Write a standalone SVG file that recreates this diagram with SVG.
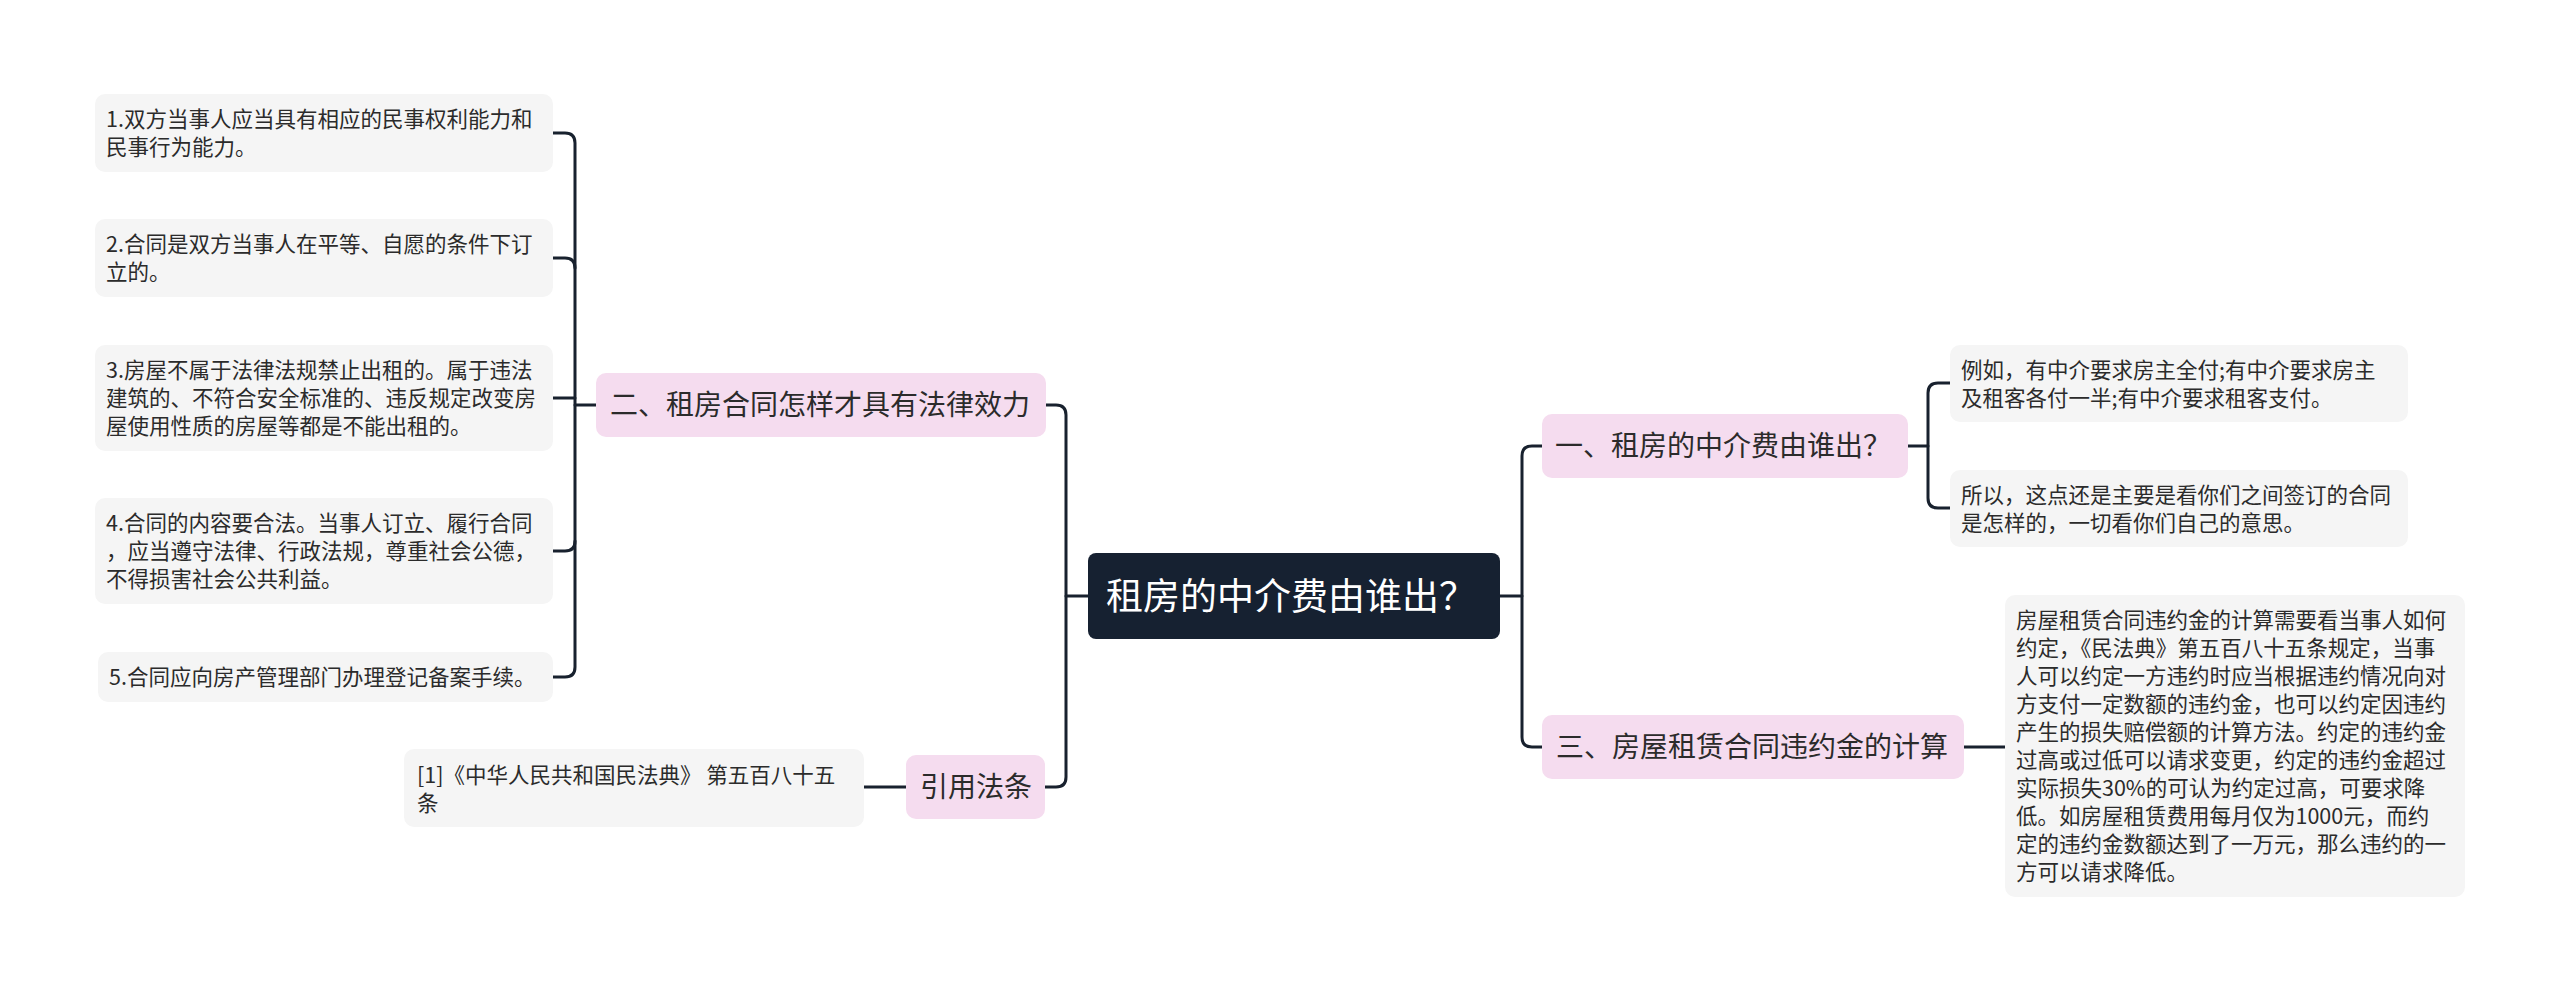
<svg xmlns="http://www.w3.org/2000/svg" width="2560" height="993" viewBox="0 0 2560 993">
<style>
.leaf{fill:#f5f5f5}
.main{fill:#f5dcef}
.root{fill:#162131}
.t{font-family:"Noto Sans CJK SC","Noto Sans",sans-serif;fill:#2b2b2b}
.ts{font-size:21.5px}
.tm{font-size:28px}
.tr{font-size:37px;fill:#ffffff}
.c{fill:none;stroke:#18212e;stroke-width:3;stroke-linecap:round;stroke-linejoin:round}
</style>
<rect width="2560" height="993" fill="#ffffff"/>
<g id="connectors">
<path class="c" d="M553,133 H565 Q575,133 575,143 V667 Q575,677 565,677 H553"/>
<path class="c" d="M553,258 H565 Q575,258 575,268"/>
<path class="c" d="M553,398 H575"/>
<path class="c" d="M553,551 H565 Q575,551 575,541"/>
<path class="c" d="M575,405 H596"/>
<path class="c" d="M1046,405 H1056 Q1066,405 1066,415 V777 Q1066,787 1056,787 H1045"/>
<path class="c" d="M1066,596 H1088"/>
<path class="c" d="M864,787 H906"/>
<path class="c" d="M1500,596 H1522"/>
<path class="c" d="M1542,446 H1532 Q1522,446 1522,456 V737 Q1522,747 1532,747 H1542"/>
<path class="c" d="M1908,446 H1928"/>
<path class="c" d="M1950,383 H1938 Q1928,383 1928,393 V498 Q1928,508 1938,508 H1950"/>
<path class="c" d="M1964,747 H2005"/>
</g>
<g id="root">
<rect class="root" x="1088" y="553" width="412" height="86" rx="8"/>
<text class="t tr" x="1106" y="610">租房的中介费由谁出？</text>
</g>
<g id="b2">
<rect class="main" x="596" y="373" width="450" height="64" rx="10"/>
<text class="t tm" x="610" y="415">二、租房合同怎样才具有法律效力</text>
</g>
<g id="cite">
<rect class="main" x="906" y="755" width="139" height="64" rx="10"/>
<text class="t tm" x="920" y="797">引用法条</text>
</g>
<g id="b1">
<rect class="main" x="1542" y="414" width="366" height="64" rx="10"/>
<text class="t tm" x="1555" y="456">一、租房的中介费由谁出？</text>
</g>
<g id="b3">
<rect class="main" x="1542" y="715" width="422" height="64" rx="10"/>
<text class="t tm" x="1556" y="757">三、房屋租赁合同违约金的计算</text>
</g>
<g id="l1">
<rect class="leaf" x="95" y="94" width="458" height="78" rx="10"/>
<text class="t ts" x="106" y="127">1.双方当事人应当具有相应的民事权利能力和</text>
<text class="t ts" x="106" y="155">民事行为能力。</text>
</g>
<g id="l2">
<rect class="leaf" x="95" y="219" width="458" height="78" rx="10"/>
<text class="t ts" x="106" y="252">2.合同是双方当事人在平等、自愿的条件下订</text>
<text class="t ts" x="106" y="280">立的。</text>
</g>
<g id="l3">
<rect class="leaf" x="95" y="345" width="458" height="106" rx="10"/>
<text class="t ts" x="106" y="378">3.房屋不属于法律法规禁止出租的。属于违法</text>
<text class="t ts" x="106" y="406">建筑的、不符合安全标准的、违反规定改变房</text>
<text class="t ts" x="106" y="434">屋使用性质的房屋等都是不能出租的。</text>
</g>
<g id="l4">
<rect class="leaf" x="95" y="498" width="458" height="106" rx="10"/>
<text class="t ts" x="106" y="531">4.合同的内容要合法。当事人订立、履行合同</text>
<text class="t ts" x="106" y="559">，应当遵守法律、行政法规，尊重社会公德，</text>
<text class="t ts" x="106" y="587">不得损害社会公共利益。</text>
</g>
<g id="l5">
<rect class="leaf" x="98" y="652" width="455" height="50" rx="10"/>
<text class="t ts" x="109" y="685">5.合同应向房产管理部门办理登记备案手续。</text>
</g>
<g id="ref">
<rect class="leaf" x="404" y="749" width="460" height="78" rx="10"/>
<text class="t ts" x="417" y="783">[1]《中华人民共和国民法典》 第五百八十五</text>
<text class="t ts" x="417" y="811">条</text>
</g>
<g id="r1">
<rect class="leaf" x="1950" y="345" width="458" height="77" rx="10"/>
<text class="t ts" x="1961" y="378">例如，有中介要求房主全付;有中介要求房主</text>
<text class="t ts" x="1961" y="406">及租客各付一半;有中介要求租客支付。</text>
</g>
<g id="r2">
<rect class="leaf" x="1950" y="470" width="458" height="77" rx="10"/>
<text class="t ts" x="1961" y="503">所以，这点还是主要是看你们之间签订的合同</text>
<text class="t ts" x="1961" y="531">是怎样的，一切看你们自己的意思。</text>
</g>
<g id="r3">
<rect class="leaf" x="2005" y="595" width="460" height="302" rx="10"/>
<text class="t ts" x="2016" y="628">房屋租赁合同违约金的计算需要看当事人如何</text>
<text class="t ts" x="2016" y="656">约定，《民法典》第五百八十五条规定，当事</text>
<text class="t ts" x="2016" y="684">人可以约定一方违约时应当根据违约情况向对</text>
<text class="t ts" x="2016" y="712">方支付一定数额的违约金，也可以约定因违约</text>
<text class="t ts" x="2016" y="740">产生的损失赔偿额的计算方法。约定的违约金</text>
<text class="t ts" x="2016" y="768">过高或过低可以请求变更，约定的违约金超过</text>
<text class="t ts" x="2016" y="796">实际损失30%的可认为约定过高，可要求降</text>
<text class="t ts" x="2016" y="824">低。如房屋租赁费用每月仅为1000元，而约</text>
<text class="t ts" x="2016" y="852">定的违约金数额达到了一万元，那么违约的一</text>
<text class="t ts" x="2016" y="880">方可以请求降低。</text>
</g>
</svg>
